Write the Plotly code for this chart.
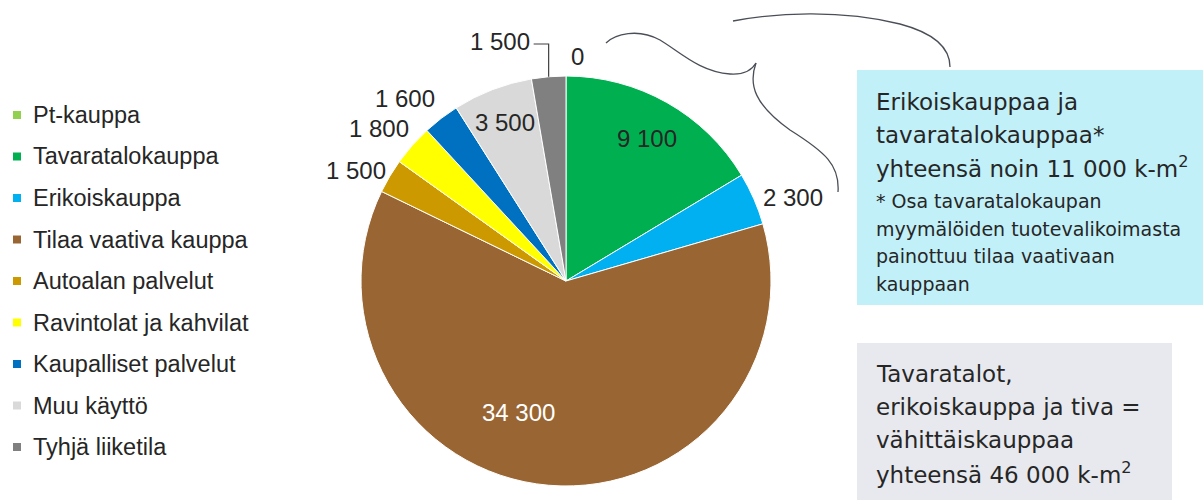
import math
import plotly.graph_objects as go

# Floor area by use (k-m2)
labels = ["Pt-kauppa", "Tavaratalokauppa", "Erikoiskauppa", "Tilaa vaativa kauppa",
          "Autoalan palvelut", "Ravintolat ja kahvilat", "Kaupalliset palvelut",
          "Muu käyttö", "Tyhjä liiketila"]
values = [0, 9100, 2300, 34300, 1500, 1800, 1600, 3500, 1500]
colors = ["#92D050", "#00B050", "#00B0F0", "#996633", "#CC9900",
          "#FFFF00", "#0070C0", "#D9D9D9", "#808080"]

note_big = ["Erikoiskauppaa ja", "tavaratalokauppaa*", "yhteensä noin 11 000 k-m<sup>2</sup>"]
note_small = ["* Osa tavaratalokaupan", "myymälöiden tuotevalikoimasta",
              "painottuu tilaa vaativaan", "kauppaan"]
note_total = ["Tavaratalot,", "erikoiskauppa ja tiva =", "vähittäiskauppaa",
              "yhteensä 46 000 k-m<sup>2</sup>"]

W, H = 1203, 500
CX, CY, R = 566, 281, 205          # pie centre and radius in pixels
TXT = "#262626"
SANS = "Liberation Sans, Arial, sans-serif"
NOTE_FONT = "DejaVu Sans, sans-serif"


def px(x):
    return x / W


def py(y):
    return 1 - y / H


def fmt(v):
    return f"{v:,}".replace(",", " ")


def svg_path(start, curves):
    s = f"M {px(start[0]):.5f},{py(start[1]):.5f}"
    for c in curves:
        s += " C " + " ".join(f"{px(x):.5f},{py(y):.5f}" for x, y in c)
    return s


fig = go.Figure(go.Pie(
    labels=labels, values=values, sort=False, direction="clockwise", rotation=0,
    marker=dict(colors=colors, line=dict(color="white", width=1)),
    textinfo="none", hoverinfo="label+value",
    domain=dict(x=[px(CX - R), px(CX + R)], y=[py(CY + R), py(CY - R)]),
))

annotations = []
shapes = []

# value labels, placed from each slice's mid-angle
total = sum(values)
placement = [(1.02, 0), (0.80, 0), (1.02, 0), (0.68, 15), (1.02, 1),
             (1.01, 0), (1.03, 0), (0.83, 0), None]
cum = 0
for i, v in enumerate(values):
    mid = (cum + v / 2) / total * 2 * math.pi
    cum += v
    s, c = math.sin(mid), math.cos(mid)
    p = placement[i]
    if p is None:
        # label lifted above the slice with a leader line
        ex, ey = CX + R * s, CY - R * c
        ly = CY - R - 32
        shapes.append(dict(type="path", xref="paper", yref="paper",
                           path=f"M {px(ex)},{py(ey)} L {px(ex)},{py(ly)} L {px(ex - 15)},{py(ly)}",
                           line=dict(color="#404040", width=1.2)))
        annotations.append(dict(x=px(ex - 17), y=py(ly - 2), xref="paper", yref="paper",
                                text=fmt(v), showarrow=False, xanchor="right", yanchor="middle",
                                font=dict(family=SANS, size=24, color=TXT)))
        continue
    frac, nudge = p
    a = mid + math.radians(nudge)
    x, y = CX + frac * R * math.sin(a), CY - frac * R * math.cos(a)
    if frac > 1:
        xa = "left" if s >= 0 else "right"
        ya = "bottom" if c > 0.6 else ("top" if c < -0.6 else "middle")
        col = TXT
    else:
        xa, ya = "center", "middle"
        col = "white" if colors[i] == "#996633" else TXT
    annotations.append(dict(x=px(x + (3 if xa == "left" else 0)), y=py(y), xref="paper",
                            yref="paper", text=fmt(v), showarrow=False, xanchor=xa, yanchor=ya,
                            font=dict(family=SANS, size=24, color=col)))

# legend
for i, (lab, col) in enumerate(zip(labels, colors)):
    yc = 115 + i * 41.5
    shapes.append(dict(type="rect", xref="paper", yref="paper",
                       x0=px(13), x1=px(21), y0=py(yc + 4), y1=py(yc - 4),
                       fillcolor=col, line=dict(width=0)))
    annotations.append(dict(x=px(31), y=py(yc), xref="paper", yref="paper", text=lab,
                            showarrow=False, xanchor="left", yanchor="middle",
                            font=dict(family=SANS, size=23.5, color=TXT)))

# note boxes
shapes.append(dict(type="rect", xref="paper", yref="paper", layer="below",
                   x0=px(857), x1=px(1203), y0=py(305), y1=py(70),
                   fillcolor="#C2F0F8", line=dict(width=0)))
shapes.append(dict(type="rect", xref="paper", yref="paper", layer="below",
                   x0=px(857), x1=px(1172), y0=py(500), y1=py(343),
                   fillcolor="#E7E9EE", line=dict(width=0)))

for k, t in enumerate(note_big):
    annotations.append(dict(x=px(874), y=py(102 + k * 32.5), xref="paper", yref="paper",
                            text=t, showarrow=False, xanchor="left", yanchor="middle",
                            font=dict(family=NOTE_FONT, size=23, color=TXT)))
for k, t in enumerate(note_small):
    annotations.append(dict(x=px(874), y=py(201 + k * 27.5), xref="paper", yref="paper",
                            text=t, showarrow=False, xanchor="left", yanchor="middle",
                            font=dict(family=NOTE_FONT, size=19, color=TXT)))
for k, t in enumerate(note_total):
    annotations.append(dict(x=px(874), y=py(374 + k * 33), xref="paper", yref="paper",
                            text=t, showarrow=False, xanchor="left", yanchor="middle",
                            font=dict(family=NOTE_FONT, size=23, color=TXT)))

# curly brace and arc
brace_col = "#4A4F57"
shapes.append(dict(type="path", xref="paper", yref="paper",
                   path=svg_path((606, 43), [((615, 34), (638, 28), (660, 40)),
                                             ((680, 52), (700, 72), (730, 74)),
                                             ((745, 75), (752, 70), (756, 63))]),
                   line=dict(color=brace_col, width=1.3)))
shapes.append(dict(type="path", xref="paper", yref="paper",
                   path=svg_path((756, 63), [((748, 85), (755, 105), (790, 130)),
                                             ((825, 152), (840, 165), (838, 192))]),
                   line=dict(color=brace_col, width=1.3)))
shapes.append(dict(type="path", xref="paper", yref="paper",
                   path=svg_path((733, 21), [((775, 13), (840, 9), (900, 24)),
                                             ((930, 32), (950, 45), (950, 67))]),
                   line=dict(color=brace_col, width=1.3)))

fig.update_layout(
    width=W, height=H, margin=dict(l=0, r=0, t=0, b=0),
    paper_bgcolor="white", plot_bgcolor="white", showlegend=False,
    annotations=annotations, shapes=shapes,
)

fig.write_html("out.html")
